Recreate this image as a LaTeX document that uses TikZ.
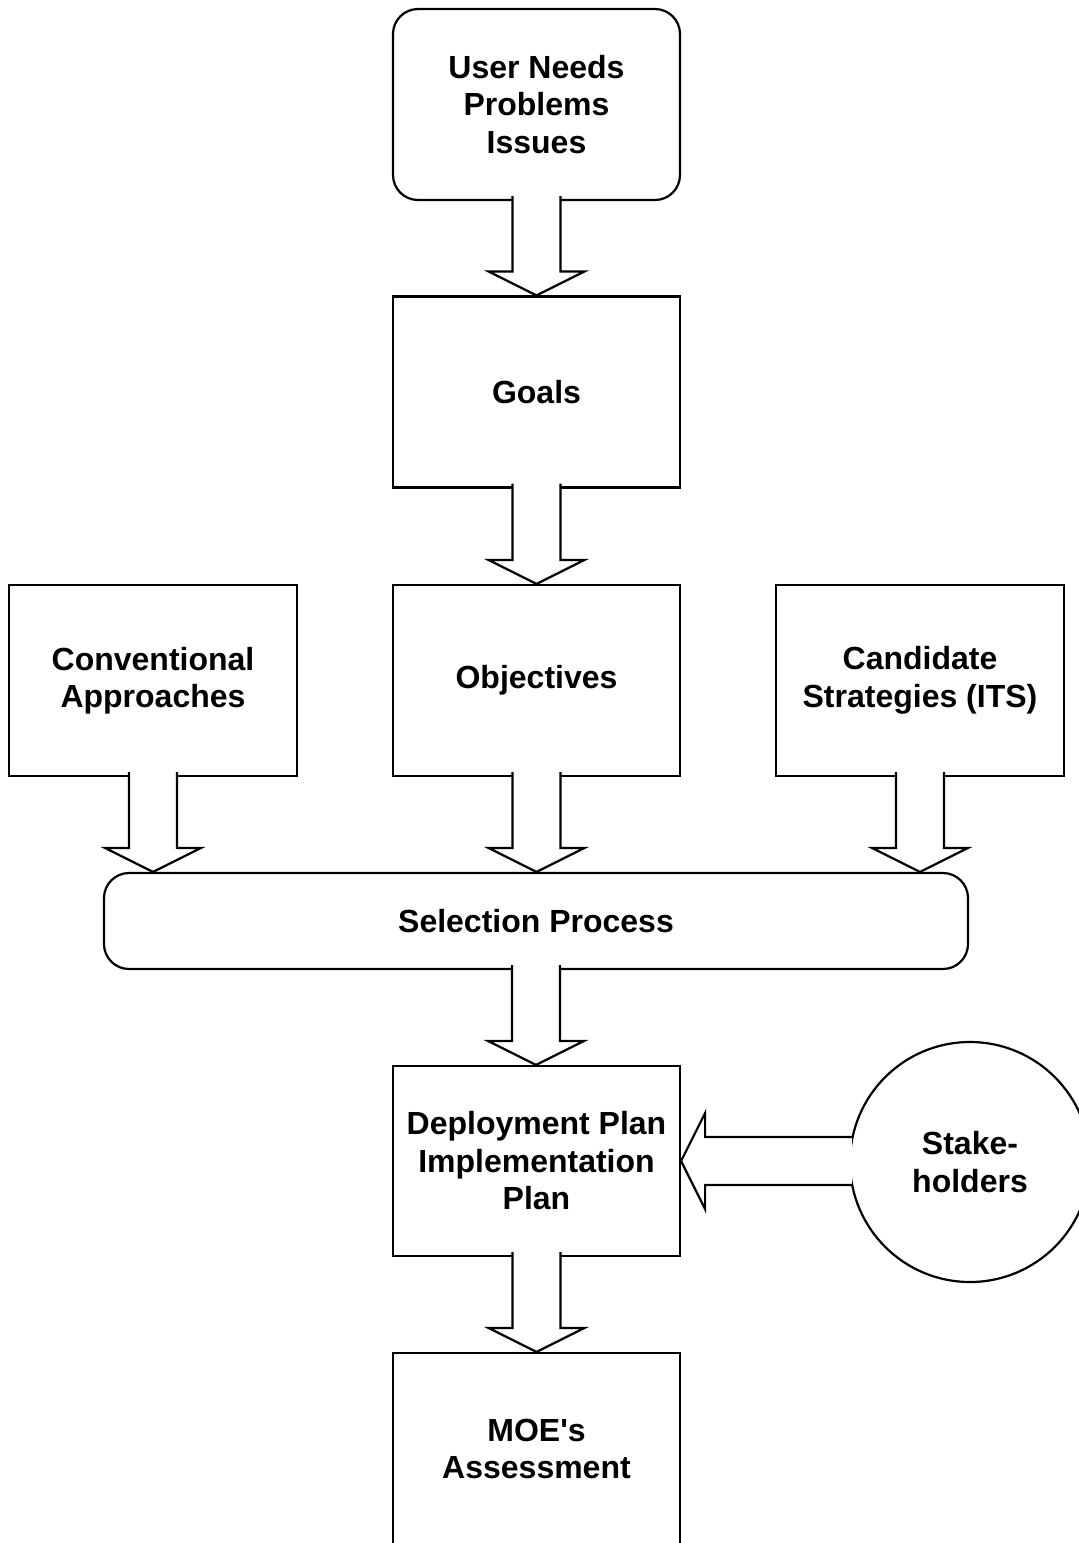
\documentclass[tikz,border=0pt]{standalone}
\usepackage{fontspec}
\setmainfont{Liberation Sans}
\usetikzlibrary{calc}
\newcommand\bdown[2]{%
  \path[barrow] let \p1=(#1.south), \p2=(#2.north) in
    (\x1-24pt,\y1+5pt) -- (\x1-24pt,\y2+24pt) -- (\x1-48pt,\y2+24pt) -- (\x1,\y2)
    -- (\x1+48pt,\y2+24pt) -- (\x1+24pt,\y2+24pt) -- (\x1+24pt,\y1+5pt);}
\begin{document}
\begin{tikzpicture}[x=1pt,y=-1pt,line width=2.2pt,
  lbl/.style={font=\bfseries\fontsize{32}{37.5}\selectfont, align=center},
  box/.style={lbl, draw, minimum width=287pt, minimum height=191pt, inner sep=0pt},
  rbox/.style={box, rounded corners=25pt},
  barrow/.style={fill=white, draw=black, line join=miter}]
\useasboundingbox (0,0) rectangle (1079,1543);
\clip (0,0) rectangle (1079,1543);
\fill[white] (0,0) rectangle (1079,1543);
\node[rbox] (un) at (536.5,104.5) {User Needs\\Problems\\Issues};
\node[box] (goals) at (536.5,392) {Goals};
\node[box] (obj) at (536.5,680.5) {Objectives};
\node[box, minimum width=288pt] (conv) at (153,680.5) {Conventional\\Approaches};
\node[box, minimum width=288pt] (cand) at (920,680.5) {Candidate\\Strategies (ITS)};
\node[rbox, minimum width=864pt, minimum height=96pt] (sel) at (536,921) {Selection Process};
\node[box, minimum height=190pt] (dep) at (536.5,1161) {Deployment Plan\\Implementation\\Plan};
\node[box, minimum height=192pt] (moe) at (536.5,1449) {MOE\textquotesingle s\\Assessment};
\node[lbl, draw, circle, minimum size=240pt, inner sep=0pt] (stake) at (970,1162) {Stake-\\holders};
\bdown{un}{goals}
\bdown{goals}{obj}
\bdown{conv}{sel}
\bdown{obj}{sel}
\bdown{cand}{sel}
\bdown{sel}{dep}
\bdown{dep}{moe}
\path[barrow] let \p1=(dep.east), \p2=(stake.west) in
  (\x2+3pt,\y1+24pt) -- (\x1+24pt,\y1+24pt) -- (\x1+24pt,\y1+48pt) -- (\x1,\y1)
  -- (\x1+24pt,\y1-48pt) -- (\x1+24pt,\y1-24pt) -- (\x2+3pt,\y1-24pt);
\end{tikzpicture}
\end{document}
